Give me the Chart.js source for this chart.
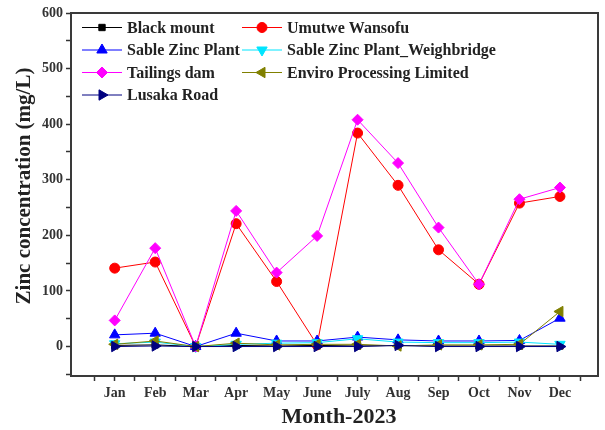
<!DOCTYPE html>
<html>
<head>
<meta charset="utf-8">
<script src="https://cdn.jsdelivr.net/npm/chart.js@4/dist/chart.umd.min.js"></script>
<style>
html,body{margin:0;padding:0;background:#fff;}
canvas{display:block;}
</style>
</head>
<body>
<canvas id="c" width="605" height="430"></canvas>
<script>
// ---- data ----
const months = ['Jan','Feb','Mar','Apr','May','June','July','Aug','Sep','Oct','Nov','Dec'];
const blackMount   = [2, 3, 0, 2, 1, 2, 1, 2, 1, 1, 1, 1];
const umutweWansofu = [141, 152, 0, 221, 117, 3, 384, 290, 174, 112, 258, 270];
const sableZinc    = [21, 24, 0, 24, 10, 10, 17, 12, 10, 10, 11, 51];
const weighbridge  = [5, 8, 0, 4, 6, 7, 14, 8, 7, 7, 8, 4];
const tailingsDam  = [47, 177, 0, 244, 133, 199, 408, 330, 214, 112, 265, 286];
const enviro       = [4, 10, 0, 6, 3, 4, 4, 1, 3, 3, 4, 63];
const lusakaRoad   = [0, 1, 0, 0, 0, 0, 0, 2, 0, 0, 0, 0];
const yTickValues  = [-50, 0, 50, 100, 150, 200, 250, 300, 350, 400, 450, 500, 550, 600];
const xTitle = 'Month-2023';
const yTitle = 'Zinc concentration (mg/L)';

const toXY = arr => arr.map((v, i) => ({x: i + 1, y: v}));

const series = [
  {label: 'Black mount', data: blackMount, color: '#000000', style: 'rect', rot: 0, r: 4.5},
  {label: 'Umutwe Wansofu', data: umutweWansofu, color: '#ff0000', style: 'circle', rot: 0, r: 5},
  {label: 'Sable Zinc Plant', data: sableZinc, color: '#0000ff', style: 'triangle', rot: 0, r: 6},
  {label: 'Sable Zinc Plant_Weighbridge', data: weighbridge, color: '#00e5ff', style: 'triangle', rot: 180, r: 6},
  {label: 'Tailings dam', data: tailingsDam, color: '#ff00ff', style: 'rectRot', rot: 0, r: 5.5},
  {label: 'Enviro Processing Limited', data: enviro, color: '#808000', style: 'triangle', rot: -90, r: 6},
  {label: 'Lusaka Road', data: lusakaRoad, color: '#000080', style: 'triangle', rot: 90, r: 6}
];

const datasets = series.map((s, i) => ({
  label: s.label,
  data: toXY(s.data),
  borderColor: s.color,
  backgroundColor: s.color,
  borderWidth: 1,
  pointStyle: s.style,
  pointRotation: s.rot,
  pointRadius: s.r,
  pointBorderWidth: 1,
  pointBorderColor: s.color,
  pointBackgroundColor: s.color,
  order: series.length - i,
  tension: 0
}));

const SERIF = '"Liberation Serif", "Times New Roman", serif';

const boxPlugin = {
  id: 'box',
  afterDatasetsDraw(chart) {
    const {ctx, chartArea: a} = chart;
    ctx.save();
    ctx.strokeStyle = '#3a3a3a';
    ctx.lineWidth = 2;
    ctx.strokeRect(a.left, a.top, a.right - a.left, a.bottom - a.top);

    // legend
    const pos = [
      [82, 27.5], [242, 27.5],
      [82, 50], [242, 50],
      [82, 72.5], [242, 72.5],
      [82, 95]
    ];
    ctx.font = 'bold 16px ' + SERIF;
    ctx.textBaseline = 'middle';
    ctx.textAlign = 'left';
    chart.data.datasets.forEach((ds, i) => {
      const [x, y] = pos[i];
      ctx.strokeStyle = ds.borderColor;
      ctx.lineWidth = 1;
      ctx.beginPath();
      ctx.moveTo(x, y);
      ctx.lineTo(x + 40, y);
      ctx.stroke();
      ctx.fillStyle = ds.backgroundColor;
      ctx.strokeStyle = ds.borderColor;
      Chart.helpers.drawPoint(ctx, {
        pointStyle: ds.pointStyle, radius: ds.pointRadius,
        rotation: ds.pointRotation, borderWidth: 1
      }, x + 20, y);
      ctx.fillStyle = '#222';
      ctx.fillText(ds.label, x + 45, y + 1);
    });

    // axis titles
    ctx.fillStyle = '#222';
    ctx.textAlign = 'center';
    ctx.font = 'bold 22px ' + SERIF;
    ctx.fillText(xTitle, 339, 417);
    ctx.save();
    ctx.translate(25, 186);
    ctx.rotate(-Math.PI / 2);
    ctx.font = 'bold 21px ' + SERIF;
    ctx.fillText(yTitle, 0, 0);
    ctx.restore();
    ctx.restore();
  }
};

new Chart(document.getElementById('c'), {
  type: 'line',
  data: {datasets},
  options: {
    responsive: false,
    animation: false,
    devicePixelRatio: 1,
    layout: {padding: {left: 0, top: 13, right: 4, bottom: 0}},
    plugins: {legend: {display: false}, tooltip: {enabled: false}},
    scales: {
      x: {
        type: 'linear',
        min: -0.08,
        max: 12.94,
        afterBuildTicks(scale) {
          const t = [];
          for (let v = 0.5; v <= 12.5; v += 0.5) t.push({value: v});
          scale.ticks = t;
        },
        afterFit(scale) { scale.height = 54; },
        border: {display: false},
        grid: {drawOnChartArea: false, drawTicks: true, tickLength: 5,
               tickColor: '#333', tickWidth: 1.5},
        ticks: {
          autoSkip: false,
          maxRotation: 0,
          padding: 4,
          color: '#333',
          font: {family: SERIF, size: 14, weight: 'bold'},
          callback: v => Number.isInteger(v) ? months[v - 1] : ''
        }
      },
      y: {
        type: 'linear',
        min: -53,
        max: 600,
        afterBuildTicks(scale) {
          scale.ticks = yTickValues.map(v => ({value: v}));
        },
        afterFit(scale) { scale.width = 71; },
        border: {display: false},
        grid: {drawOnChartArea: false, drawTicks: true, tickLength: 5,
               tickColor: '#333', tickWidth: 1.5},
        ticks: {
          autoSkip: false,
          padding: 3,
          color: '#333',
          font: {family: SERIF, size: 14, weight: 'bold'},
          callback: v => (v % 100 === 0) ? String(v) : ''
        }
      }
    }
  },
  plugins: [boxPlugin]
});
</script>
</body>
</html>
